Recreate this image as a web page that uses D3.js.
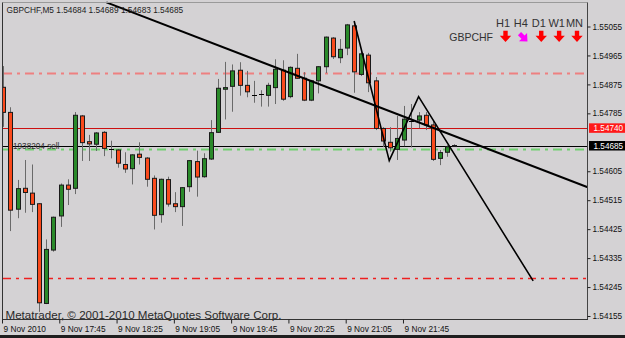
<!DOCTYPE html>
<html><head><meta charset="utf-8">
<script src="https://cdn.jsdelivr.net/npm/d3@7/dist/d3.min.js"></script>
<style>
html,body{margin:0;padding:0;background:#d4d2d4;overflow:hidden}
text{font-family:"Liberation Sans",Arial,sans-serif}
</style>
</head><body>
<svg id="c" width="625" height="338"></svg>
<script>
// ---------------- data ----------------
const symbol = "GBPCHF";
const timeframe = "M5";
const opens  = [1.54866,1.54788,1.54487,1.54552,1.54537,1.54504,1.54194,1.54360,1.54466,1.54562,
                1.54552,1.54777,1.54697,1.54689,1.54726,1.54675,1.54671,1.54626,1.54613,1.54658,
                1.54646,1.54583,1.54470,1.54579,1.54504,1.54495,1.54557,1.54635,1.54588,1.54643,
                1.54726,1.54860,1.54869,1.54919,1.54872,1.54843,1.54844,1.54841,1.54865,1.54919,
                1.54837,1.54925,1.54894,1.54826,1.54886,1.54930,1.55019,1.54958,1.54988,1.55057,
                1.54906,1.54966,1.54886,1.54738,1.54695,1.54673,1.54702,1.54761,1.54764,1.54779,
                1.54749,1.54645,1.54664,1.54684];
const highs  = [1.54932,1.54804,1.54578,1.54640,1.54626,1.54506,1.54393,1.54464,1.54567,1.54580,
                1.54789,1.54780,1.54718,1.54727,1.54730,1.54700,1.54674,1.54664,1.54658,1.54695,
                1.54649,1.54592,1.54582,1.54588,1.54540,1.54556,1.54640,1.54669,1.54661,1.54764,
                1.54892,1.54945,1.54937,1.54944,1.54917,1.54886,1.54857,1.54880,1.54953,1.54950,
                1.54931,1.54970,1.54913,1.54889,1.54932,1.55024,1.55022,1.55016,1.55063,1.55072,
                1.54976,1.54973,1.54898,1.54742,1.54742,1.54777,1.54808,1.54814,1.54789,1.54789,
                1.54761,1.54671,1.54686,1.54689];
const lows   = [1.54743,1.54419,1.54459,1.54476,1.54478,1.54168,1.54192,1.54355,1.54432,1.54500,
                1.54534,1.54637,1.54637,1.54668,1.54652,1.54645,1.54616,1.54600,1.54564,1.54626,
                1.54557,1.54424,1.54445,1.54495,1.54478,1.54435,1.54541,1.54526,1.54585,1.54640,
                1.54724,1.54766,1.54790,1.54840,1.54835,1.54818,1.54806,1.54806,1.54814,1.54824,
                1.54832,1.54892,1.54823,1.54823,1.54847,1.54910,1.54954,1.54941,1.54966,1.54849,
                1.54901,1.54851,1.54733,1.54680,1.54666,1.54640,1.54683,1.54679,1.54739,1.54733,
                1.54637,1.54624,1.54650,1.54683];
const closes = [1.54788,1.54484,1.54551,1.54539,1.54502,1.54196,1.54362,1.54462,1.54562,1.54549,
                1.54779,1.54694,1.54690,1.54724,1.54676,1.54675,1.54630,1.54612,1.54656,1.54648,
                1.54580,1.54468,1.54580,1.54503,1.54495,1.54554,1.54638,1.54587,1.54644,1.54725,
                1.54863,1.54865,1.54917,1.54872,1.54852,1.54843,1.54844,1.54872,1.54922,1.54829,
                1.54928,1.54894,1.54826,1.54886,1.54930,1.55022,1.54961,1.54984,1.55060,1.54914,
                1.54970,1.54880,1.54738,1.54699,1.54678,1.54707,1.54767,1.54761,1.54777,1.54749,
                1.54642,1.54663,1.54681,1.54685];

const timeTickIndex  = [0, 8, 16, 24, 32, 40, 48, 56];
const timeTickLabels = ["9 Nov 2010","9 Nov 17:45","9 Nov 18:25","9 Nov 19:05",
                        "9 Nov 19:45","9 Nov 20:25","9 Nov 21:05","9 Nov 21:45"];
const priceTicks = [1.55055,1.54965,1.54875,1.54785,1.54605,1.54515,1.54425,1.54335,1.54245,1.54155];

const bidPrice = 1.54685;
const askPrice = 1.54740;
const orderPrice = 1.54673;
const orderLabel = "1938204 sell";
const levelUpper = 1.54910;
const levelLower = 1.54273;

const trendIdx   = [14.4, 82];
const trendPrice = [1.55130, 1.54552];
const zigzagIdx   = [49, 53.9, 58, 74];
const zigzagPrice = [1.55072, 1.54638, 1.54837, 1.54264];

const signalFrames = ["H1","H4","D1","W1","MN"];
const signalDirs   = ["down","downRight","down","down","down"];
const copyright = "Metatrader, \u00A9 2001-2010 MetaQuotes Software Corp.";

// ---------------- drawing ----------------
const svg = d3.select("#c");
const W = 625, H = 338;
const plotL = 3, plotR = 587.5, plotB = 319.5;

const x = d3.scaleLinear().domain([0, 63]).range([3.3, 454.4]);
const y = d3.scaleLinear().domain([1.54155, 1.55055]).range([316, 26.5]);

svg.append("rect").attr("width", W).attr("height", H).attr("fill", "#d4d2d4");

svg.append("defs").append("clipPath").attr("id", "plot")
  .append("rect").attr("x", plotL).attr("y", 0).attr("width", plotR - plotL).attr("height", plotB);

const g = svg.append("g").attr("clip-path", "url(#plot)");

// title
svg.append("text").attr("x", 6.5).attr("y", 12.5).attr("font-size", 8.3).attr("fill", "#222")
  .text(`${symbol},${timeframe}  ${[opens[63], highs[63], lows[63], closes[63]].map(d3.format(".5f")).join(" ")}`);

// horizontal levels
function hline(p, color, width, dash) {
  g.append("line").attr("x1", plotL).attr("x2", plotR)
    .attr("y1", Math.round(y(p)) + 0.5).attr("y2", Math.round(y(p)) + 0.5)
    .attr("stroke", color).attr("stroke-width", width)
    .attr("stroke-dasharray", dash || null);
}
hline(levelUpper, "#ee8080", 2, "9,5,3,5");
hline(levelLower, "#ee2020", 1.3, "8,5,3,5");
hline(askPrice, "#cc1010", 1);
hline(bidPrice, "#000000", 1);
hline(orderPrice, "#70d070", 2, "9,5,3,5");

g.append("text").attr("x", 13).attr("y", y(orderPrice) - 0.8).attr("font-size", 8.2).attr("fill", "#333")
  .text(orderLabel);

// candles
const idx = d3.range(opens.length);
const cg = g.append("g");
cg.selectAll("line.wick").data(idx).join("line").attr("class", "wick")
  .attr("x1", i => Math.round(x(i)) + 0.5).attr("x2", i => Math.round(x(i)) + 0.5)
  .attr("y1", i => y(highs[i])).attr("y2", i => y(lows[i]))
  .attr("stroke", "#6a6a6a").attr("stroke-width", 1);
const bodies = idx.filter(i => Math.abs(opens[i] - closes[i]) > 0.000001);
cg.selectAll("rect.body").data(bodies).join("rect").attr("class", "body")
  .attr("x", i => Math.round(x(i)) - 1.5)
  .attr("width", 4)
  .attr("y", i => y(Math.max(opens[i], closes[i])))
  .attr("height", i => Math.max(1, y(Math.min(opens[i], closes[i])) - y(Math.max(opens[i], closes[i]))))
  .attr("fill", i => closes[i] > opens[i] ? "#2a8a2a" : "#fa4a1c")
  .attr("stroke", "#1a1a1a").attr("stroke-width", 1);
const dojis = idx.filter(i => Math.abs(opens[i] - closes[i]) <= 0.000001);
cg.selectAll("line.doji").data(dojis).join("line").attr("class", "doji")
  .attr("x1", i => Math.round(x(i)) - 2).attr("x2", i => Math.round(x(i)) + 3)
  .attr("y1", i => Math.round(y(closes[i])) + 0.5).attr("y2", i => Math.round(y(closes[i])) + 0.5)
  .attr("stroke", "#000").attr("stroke-width", 1);

// trend lines
const ln = d3.line().x(d => x(d[0])).y(d => y(d[1]));
g.append("path").attr("d", ln(d3.zip(trendIdx, trendPrice)))
  .attr("fill", "none").attr("stroke", "#000").attr("stroke-width", 2);
g.append("path").attr("d", ln(d3.zip(zigzagIdx, zigzagPrice)))
  .attr("fill", "none").attr("stroke", "#000").attr("stroke-width", 1.6).attr("stroke-linejoin", "miter");

// copyright
svg.append("text").attr("x", 5.5).attr("y", 318.5).attr("font-size", 11).attr("fill", "#2a2a2a")
  .attr("textLength", 276).attr("lengthAdjust", "spacingAndGlyphs").text(copyright);

// frame
svg.append("line").attr("x1", plotL - 0.5).attr("x2", plotR).attr("y1", 2.5).attr("y2", 2.5).attr("stroke", "#9a9a9a");
svg.append("line").attr("x1", 2.5).attr("x2", 2.5).attr("y1", 2.5).attr("y2", plotB).attr("stroke", "#333");
svg.append("line").attr("x1", plotR).attr("x2", plotR).attr("y1", 2.5).attr("y2", plotB).attr("stroke", "#444");
svg.append("line").attr("x1", 2).attr("x2", plotR + 0.5).attr("y1", plotB).attr("y2", plotB).attr("stroke", "#333");

// price axis
const ya = svg.append("g").attr("transform", `translate(${plotR},0)`)
  .call(d3.axisRight(y).tickValues(priceTicks).tickSize(3).tickPadding(2).tickFormat(d3.format(".5f")));
ya.select(".domain").remove();
ya.selectAll("line").attr("stroke", "#222");
ya.selectAll("text").attr("font-size", 8.2).attr("fill", "#111").attr("font-family", "Liberation Sans, Arial, sans-serif");

// price tags
function tag(p, bg) {
  const yy = y(p);
  svg.append("rect").attr("x", 589).attr("y", yy - 4.5).attr("width", 36).attr("height", 9.5).attr("fill", bg);
  svg.append("text").attr("x", 593.5).attr("y", yy + 3).attr("font-size", 8.2).attr("fill", "#fff").text(d3.format(".5f")(p));
}
tag(askPrice, "#ff1a1a");
tag(bidPrice, "#000");

// time axis
const xa = svg.append("g").attr("transform", `translate(-1.3,${plotB})`)
  .call(d3.axisBottom(x).tickValues(timeTickIndex).tickSize(4).tickPadding(0)
    .tickFormat((d, k) => timeTickLabels[k]));
xa.select(".domain").remove();
xa.selectAll("line").attr("stroke", "#222");
xa.selectAll("text").attr("font-size", 8.3).attr("fill", "#111").attr("text-anchor", "start")
  .attr("x", 1).attr("dy", "1.0em").attr("font-family", "Liberation Sans, Arial, sans-serif");

// signal panel
const sigX = d3.scalePoint().domain(signalFrames).range([505.5, 577]);
svg.selectAll("text.tf").data(signalFrames).join("text").attr("class", "tf")
  .attr("x", d => sigX(d) - 2.5).attr("y", 27.3).attr("text-anchor", "middle")
  .attr("font-size", 11).attr("fill", "#333").text(d => d);
svg.append("text").attr("x", 493).attr("y", 40.7).attr("text-anchor", "end")
  .attr("font-size", 10.5).attr("fill", "#333").text(symbol);
const arrowPath = "M-2.2,-5.5 L2.2,-5.5 L2.2,-0.5 L5.7,-0.5 L0,5.8 L-5.7,-0.5 L-2.2,-0.5 Z";
svg.selectAll("path.sig").data(signalFrames).join("path").attr("class", "sig")
  .attr("d", arrowPath)
  .attr("transform", (d, k) => `translate(${sigX(d)},${signalDirs[k] === "down" ? 36.3 : 37.5}) rotate(${signalDirs[k] === "down" ? 0 : -45})`)
  .attr("fill", (d, k) => signalDirs[k] === "down" ? "#ff0000" : "#ff00ff");

// bottom dark strip
svg.append("rect").attr("x", 0).attr("y", 335).attr("width", W).attr("height", 3).attr("fill", "#1e1e1e");
</script>
</body></html>
